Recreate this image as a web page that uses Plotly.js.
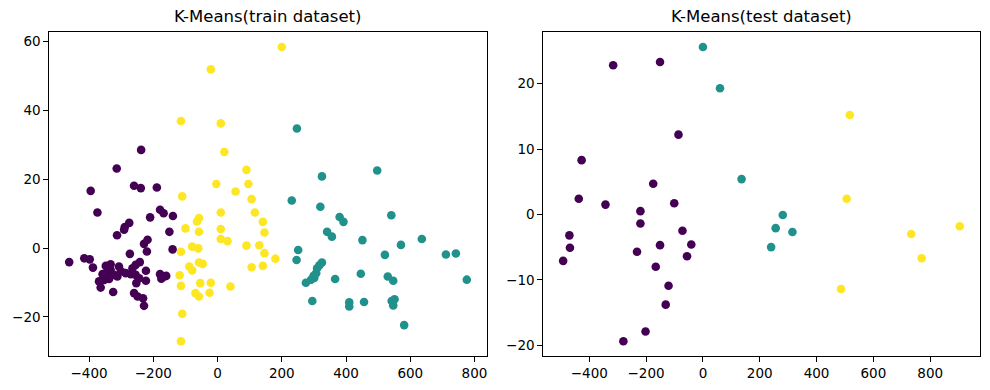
<!DOCTYPE html>
<html>
<head>
<meta charset="utf-8">
<script src="https://cdn.plot.ly/plotly-3.0.1.min.js"></script>
<style>html,body{margin:0;padding:0;background:#fff}#chart{width:990px;height:390px}</style>
</head>
<body>
<div id="chart"></div>
<script>
// ---- Train dataset clusters ----
const trainPurpleX = [-238,-314,-395,-260,-239,-189,-374,-179,-168,-139,-210,-275,-289,-291,-313,-150,-218,-229,-220,-140,-273,-462,-415,-398,-388,-358,-353,-343,-333,-333,-322,-312,-307,-301,-286,-270,-265,-255,-242,-255,-223,-223,-244,-253,-369,-364,-325,-260,-249,-232,-229,-179,-166,-175,-160,-348,-338];
const trainPurpleY = [28.5,23.1,16.6,18.1,17.4,17.6,10.3,11.1,10.1,9.3,8.9,7.3,6.1,5.3,3.7,4.7,2.4,1.2,-1.0,-0.4,-1.7,-4.1,-3.0,-3.3,-5.7,-7.6,-9.3,-6.8,-4.7,-6.3,-7.8,-8.3,-5.4,-6.8,-7.3,-7.6,-5.9,-4.9,-4.1,-7.8,-6.6,-9.5,-8.8,-10.2,-9.7,-11.5,-12.8,-13.1,-14.1,-14.6,-16.8,-7.6,-8.3,-8.9,-8.1,-5.2,-9.0];
const trainTealX = [247,497,325,231,320,541,380,392,341,356,451,636,571,251,711,742,521,246,325,310,307,301,291,275,366,446,530,547,776,295,410,410,456,551,542,547,581,317,299];
const trainTealY = [34.7,22.5,20.8,13.8,12.0,9.5,9.0,7.6,4.7,3.3,2.3,2.6,0.9,-0.6,-1.9,-1.6,-2.0,-3.5,-4.2,-5.9,-7.3,-8.7,-9.2,-10.1,-9.0,-7.5,-8.3,-9.5,-9.2,-15.4,-15.8,-17.0,-15.7,-14.9,-15.4,-16.7,-22.4,-5.0,-8.1];
const trainYellowX = [200,-21,-114,10,21,90,-4,96,56,-110,106,116,10,-58,-64,141,-100,10,-58,146,10,31,90,130,-79,-60,-114,146,180,-88,-79,-58,-46,106,141,-118,-114,-54,-21,40,-69,-58,-25,-110,-114];
const trainYellowY = [58.4,51.9,36.9,36.2,27.9,22.7,18.6,18.6,16.4,15.0,14.2,10.3,10.3,8.7,7.7,7.6,5.7,5.5,4.7,4.5,2.6,2.0,0.7,0.8,0.4,-0.1,-1.1,-1.5,-3.1,-5.4,-6.5,-4.2,-4.6,-5.6,-5.2,-7.9,-11.0,-10.2,-10.1,-11.2,-13.1,-14.1,-13.0,-19.1,-27.1];

// ---- Test dataset clusters ----
const testPurpleX = [-316,-151,-86,-427,-175,-437,-343,-101,-220,-220,-470,-468,-492,-72,-41,-151,-232,-56,-166,-121,-131,-202,-280];
const testPurpleY = [22.8,23.3,12.2,8.3,4.7,2.4,1.5,1.7,0.5,-1.4,-3.2,-5.1,-7.1,-2.5,-4.6,-4.7,-5.7,-6.4,-8.0,-10.9,-13.8,-17.9,-19.4];
const testTealX = [0,60,136,281,256,315,240];
const testTealY = [25.6,19.3,5.4,-0.1,-2.1,-2.7,-5.0];
const testYellowX = [517,506,733,904,770,486];
const testYellowY = [15.2,2.4,-3.0,-1.8,-6.7,-11.4];

// ---- Tick labels ----
const trainXTicks = [-400,-200,0,200,400,600,800];
const trainYTicks = [-20,0,20,40,60];
const testXTicks = [-400,-200,0,200,400,600,800];
const testYTicks = [-20,-10,0,10,20];
const titles = ["K-Means(train dataset)", "K-Means(test dataset)"];

const PURPLE = '#440154', TEAL = '#21918c', YELLOW = '#fde725';
const FONT = 'DejaVu Sans, sans-serif';

function lbl(v){ return v < 0 ? '\u2212' + Math.abs(v) : String(v); }
function rng(arrs){
  const all = [].concat(...arrs);
  const mn = Math.min(...all), mx = Math.max(...all);
  const m = (mx - mn) * 0.05;
  return [mn - m, mx + m];
}
function pts(x, y, color, xa, ya){
  return {x:x, y:y, xaxis:xa, yaxis:ya, type:'scatter', mode:'markers',
    marker:{color:color, size:8.6, line:{width:0}}, hoverinfo:'skip', showlegend:false};
}

const traces = [
  pts(trainPurpleX, trainPurpleY, PURPLE, 'x', 'y'),
  pts(trainTealX, trainTealY, TEAL, 'x', 'y'),
  pts(trainYellowX, trainYellowY, YELLOW, 'x', 'y'),
  pts(testPurpleX, testPurpleY, PURPLE, 'x2', 'y2'),
  pts(testTealX, testTealY, TEAL, 'x2', 'y2'),
  pts(testYellowX, testYellowY, YELLOW, 'x2', 'y2')
];

function axis(domain, range, ticks, anchor){
  return {domain:domain, range:range, anchor:anchor, tickmode:'array', tickvals:ticks,
    ticktext:ticks.map(lbl), showline:true, mirror:true, linecolor:'#000', linewidth:1,
    ticks:'outside', ticklen:5, tickwidth:1, tickcolor:'#000', showgrid:false, zeroline:false,
    tickfont:{family:FONT, size:13.5, color:'#000'}, fixedrange:true};
}

const yDom = [0.0872, 0.9172];
const x1Dom = [0.0498, 0.4916], x2Dom = [0.5488, 0.9895];

const layout = {
  width:990, height:390, margin:{l:0, r:0, t:0, b:0},
  paper_bgcolor:'#fff', plot_bgcolor:'#fff',
  xaxis: axis(x1Dom, rng([trainPurpleX, trainTealX, trainYellowX]), trainXTicks, 'y'),
  yaxis: axis(yDom, rng([trainPurpleY, trainTealY, trainYellowY]), trainYTicks, 'x'),
  xaxis2: axis(x2Dom, rng([testPurpleX, testTealX, testYellowX]), testXTicks, 'y2'),
  yaxis2: axis(yDom, rng([testPurpleY, testTealY, testYellowY]), testYTicks, 'x2'),
  annotations: [
    {text:titles[0], xref:'paper', yref:'paper', x:(x1Dom[0]+x1Dom[1])/2, y:yDom[1],
     xanchor:'center', yanchor:'bottom', yshift:4, showarrow:false, font:{family:FONT, size:16.5, color:'#000'}},
    {text:titles[1], xref:'paper', yref:'paper', x:(x2Dom[0]+x2Dom[1])/2, y:yDom[1],
     xanchor:'center', yanchor:'bottom', yshift:4, showarrow:false, font:{family:FONT, size:16.5, color:'#000'}}
  ]
};

Plotly.newPlot('chart', traces, layout, {displayModeBar:false, staticPlot:true});
</script>
</body>
</html>
